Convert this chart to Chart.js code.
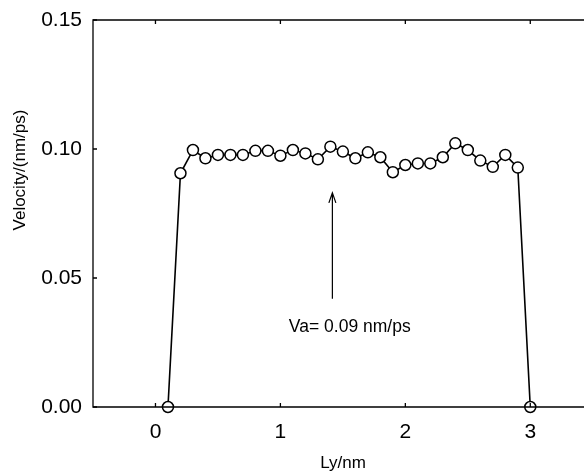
<!DOCTYPE html>
<html>
<head>
<meta charset="utf-8">
<script src="https://cdn.jsdelivr.net/npm/chart.js@4"></script>
<style>
  html, body { margin: 0; padding: 0; background: #fff; overflow: hidden; }
  #wrap { width: 584px; height: 473px; }
</style>
</head>
<body>
<div id="wrap"><canvas id="c" width="584" height="473"></canvas></div>
<script>
// data
const lyNm = [0.1, 0.2, 0.3, 0.4, 0.5, 0.6, 0.7, 0.8, 0.9, 1.0,
              1.1, 1.2, 1.3, 1.4, 1.5, 1.6, 1.7, 1.8, 1.9, 2.0,
              2.1, 2.2, 2.3, 2.4, 2.5, 2.6, 2.7, 2.8, 2.9, 3.0];
const velocity = [0.0, 0.0906, 0.0996, 0.0964, 0.0977, 0.0977, 0.0977, 0.0993, 0.0993, 0.0974,
                  0.0996, 0.0983, 0.096, 0.1009, 0.099, 0.0964, 0.0987, 0.0968, 0.091, 0.0938,
                  0.0944, 0.0944, 0.0968, 0.1022, 0.0996, 0.0955, 0.0931, 0.0977, 0.0928, 0.0];
const xTicks = [0, 1, 2, 3];
const yTicks = [0, 0.05, 0.10, 0.15];
const noteText = 'Va= 0.09 nm/ps';

const FONT = "Arial, 'Liberation Sans', sans-serif";

// frame, inward ticks, axis titles and the arrow note
const framePlugin = {
  id: 'frame',
  afterDraw(chart) {
    const { ctx, chartArea: a, scales: { x, y } } = chart;
    ctx.save();
    ctx.strokeStyle = '#000';
    ctx.lineWidth = 1.3;
    ctx.beginPath();
    ctx.moveTo(a.right + 2, a.top);
    ctx.lineTo(a.left, a.top);
    ctx.lineTo(a.left, a.bottom);
    ctx.lineTo(a.right + 2, a.bottom);
    ctx.stroke();

    ctx.beginPath();
    xTicks.forEach(t => {
      const px = x.getPixelForValue(t);
      ctx.moveTo(px, a.bottom); ctx.lineTo(px, a.bottom - 4);
      ctx.moveTo(px, a.top); ctx.lineTo(px, a.top + 4);
    });
    yTicks.forEach(t => {
      const py = y.getPixelForValue(t);
      ctx.moveTo(a.left, py); ctx.lineTo(a.left + 4, py);
    });
    ctx.stroke();

    // axis titles
    ctx.fillStyle = '#000';
    ctx.font = '17px ' + FONT;
    ctx.textAlign = 'center';
    ctx.textBaseline = 'middle';
    ctx.fillText('Ly/nm', 343, 463);
    ctx.save();
    ctx.translate(20, 170);
    ctx.rotate(-Math.PI / 2);
    ctx.fillText('Velocity/(nm/ps)', 0, 0);
    ctx.restore();

    // arrow note
    const ax = x.getPixelForValue(1.416);
    const yTip = y.getPixelForValue(0.083);
    const yEnd = y.getPixelForValue(0.042);
    ctx.lineWidth = 1.2;
    ctx.beginPath();
    ctx.moveTo(ax, yEnd); ctx.lineTo(ax, yTip);
    ctx.moveTo(ax - 3.5, yTip + 10); ctx.lineTo(ax, yTip); ctx.lineTo(ax + 3.5, yTip + 10);
    ctx.stroke();
    ctx.font = '17.5px ' + FONT;
    ctx.fillText(noteText, x.getPixelForValue(1.555), y.getPixelForValue(0.031));
    ctx.restore();
  }
};

new Chart(document.getElementById('c'), {
  type: 'scatter',
  data: {
    datasets: [{
      data: lyNm.map((v, i) => ({ x: v, y: velocity[i] })),
      showLine: true,
      borderColor: '#000',
      borderWidth: 1.6,
      pointRadius: 5.5,
      pointBorderWidth: 1.5,
      pointBackgroundColor: '#fff',
      pointBorderColor: '#000',
      clip: false
    }]
  },
  options: {
    responsive: false,
    animation: false,
    events: [],
    layout: { autoPadding: false, padding: { top: 20, right: 0, left: 0, bottom: 0 } },
    plugins: { legend: { display: false }, tooltip: { enabled: false } },
    scales: {
      x: {
        type: 'linear',
        min: -0.5,
        max: 3.43,
        afterBuildTicks: s => { s.ticks = xTicks.map(v => ({ value: v })); },
        afterFit: s => { s.height = 66; s.paddingLeft = 0; s.paddingRight = 0; },
        grid: { display: false, drawTicks: false },
        border: { display: false },
        ticks: { padding: 13, color: '#000', font: { family: FONT, size: 21 }, callback: v => String(v) }
      },
      y: {
        min: 0,
        max: 0.15,
        afterBuildTicks: s => { s.ticks = yTicks.map(v => ({ value: v })); },
        afterFit: s => { s.width = 93; s.paddingTop = 0; s.paddingBottom = 0; },
        grid: { display: false, drawTicks: false },
        border: { display: false },
        ticks: { padding: 11, color: '#000', font: { family: FONT, size: 21 }, callback: v => Number(v).toFixed(2) }
      }
    }
  },
  plugins: [framePlugin]
});
</script>
</body>
</html>
